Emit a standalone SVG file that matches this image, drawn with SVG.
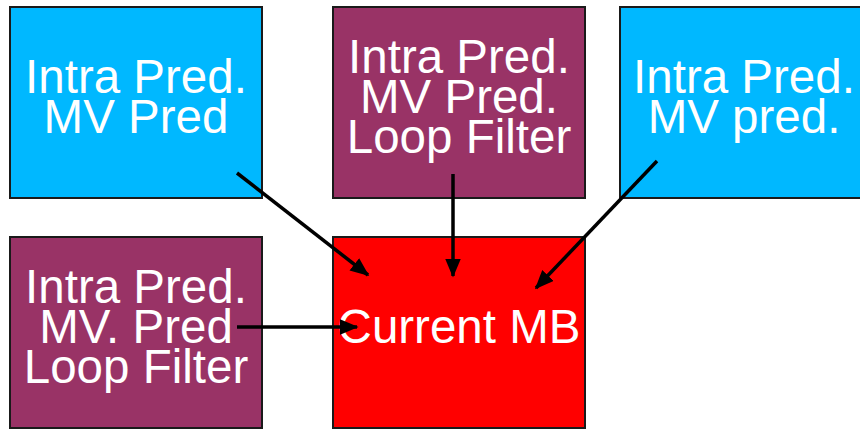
<svg xmlns="http://www.w3.org/2000/svg" width="860" height="429" viewBox="0 0 860 429">
  <style>
    .box { stroke: #1a1a1a; stroke-width: 2; }
    .cyan { fill: #00B8FF; }
    .plum { fill: #993366; }
    .red { fill: #FF0000; }
    .lbl { font-family: "Liberation Sans", Arial, sans-serif; font-size: 47.5px; fill: #FFFFFF; text-anchor: middle; }
    .conn { stroke: #000000; stroke-width: 3.5; fill: none; marker-end: url(#head); }
  </style>
  <defs>
    <marker id="head" viewBox="0 0 12 10" refX="11" refY="5" markerWidth="5.5" markerHeight="4.5" orient="auto" markerUnits="strokeWidth">
      <path d="M0,0 L12,5 L0,10 Z" fill="#000000"/>
    </marker>
  </defs>
  <rect width="860" height="429" fill="#FFFFFF"/>

  <g id="node-top-left">
    <rect class="box cyan" x="10" y="7" width="252" height="191"/>
    <text class="lbl" x="136" y="93">Intra Pred.</text>
    <text class="lbl" x="136" y="133">MV Pred</text>
  </g>

  <g id="node-top-middle">
    <rect class="box plum" x="333" y="7" width="252" height="191"/>
    <text class="lbl" x="459" y="73">Intra Pred.</text>
    <text class="lbl" x="459" y="113">MV Pred.</text>
    <text class="lbl" x="459" y="153">Loop Filter</text>
  </g>

  <g id="node-top-right">
    <rect class="box cyan" x="620" y="7" width="252" height="191"/>
    <text class="lbl" x="744" y="93">Intra Pred.</text>
    <text class="lbl" x="744" y="133">MV pred.</text>
  </g>

  <g id="node-bottom-left">
    <rect class="box plum" x="10" y="237" width="252" height="191"/>
    <text class="lbl" x="136" y="303">Intra Pred.</text>
    <text class="lbl" x="136" y="343">MV. Pred</text>
    <text class="lbl" x="136" y="383">Loop Filter</text>
  </g>

  <g id="node-current">
    <rect class="box red" x="333" y="237" width="252" height="191"/>
    <text class="lbl" x="459" y="343">Current MB</text>
  </g>

  <g id="connectors">
    <line class="conn" x1="237" y1="173" x2="368" y2="275"/>
    <line class="conn" x1="453" y1="174" x2="453" y2="276"/>
    <line class="conn" x1="657" y1="161" x2="536" y2="288"/>
    <line class="conn" x1="237" y1="327" x2="357" y2="327"/>
  </g>
</svg>
